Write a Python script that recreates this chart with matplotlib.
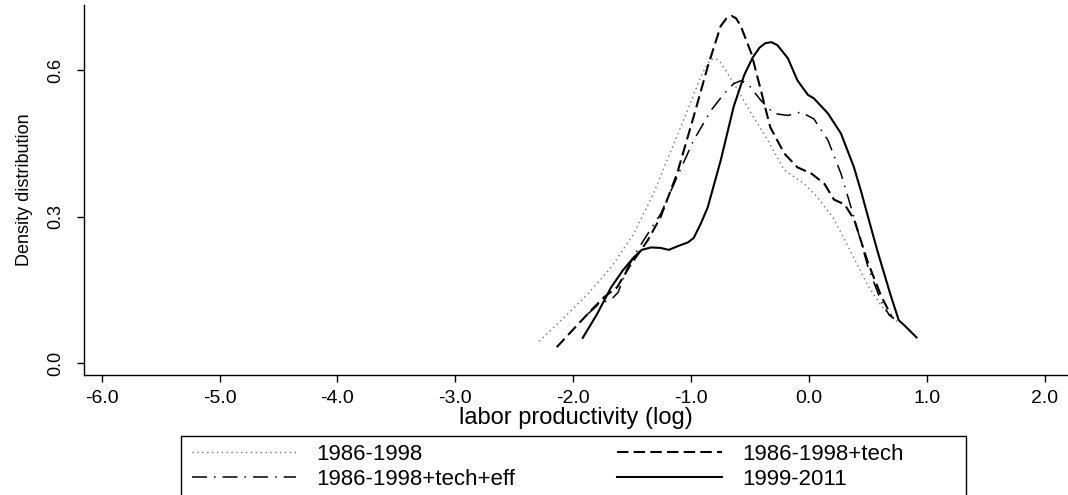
import matplotlib.pyplot as plt
from matplotlib.patches import Rectangle

plt.rcParams['font.family'] = ['Liberation Sans', 'DejaVu Sans']

# densités estimées de la productivité du travail (log)
x_8698 = [-2.29, -2.08, -1.88, -1.68, -1.49, -1.32, -1.17, -1.03, -0.92, -0.87, -0.83, -0.79,
          -0.75, -0.64, -0.49, -0.35, -0.21, -0.04, 0.07, 0.21, 0.36, 0.50, 0.61, 0.70, 0.75]
y_8698 = [0.045, 0.093, 0.141, 0.196, 0.264, 0.347, 0.436, 0.518, 0.586, 0.610, 0.622, 0.623,
          0.615, 0.573, 0.511, 0.456, 0.395, 0.367, 0.340, 0.295, 0.225, 0.158, 0.118, 0.093, 0.085]

x_tech = [-2.14, -1.99, -1.85, -1.74, -1.63, -1.51, -1.37, -1.26, -1.12, -0.98, -0.86, -0.75,
          -0.70, -0.66, -0.62, -0.58, -0.49, -0.41, -0.33, -0.21, -0.10, 0.02, 0.13, 0.21,
          0.30, 0.38, 0.50, 0.61, 0.70]
y_tech = [0.033, 0.072, 0.108, 0.135, 0.155, 0.203, 0.251, 0.299, 0.388, 0.504, 0.607, 0.690,
          0.706, 0.711, 0.706, 0.690, 0.634, 0.559, 0.483, 0.429, 0.401, 0.388, 0.367, 0.335,
          0.325, 0.295, 0.205, 0.138, 0.095]

x_eff = [-1.88, -1.78, -1.68, -1.62, -1.55, -1.46, -1.36, -1.26, -1.12, -0.98, -0.83, -0.72,
         -0.64, -0.58, -0.52, -0.41, -0.30, -0.18, -0.07, 0.04, 0.16, 0.27, 0.38, 0.50,
         0.61, 0.68, 0.72]
y_eff = [0.100, 0.122, 0.130, 0.145, 0.190, 0.230, 0.268, 0.305, 0.381, 0.456, 0.518, 0.552,
         0.572, 0.578, 0.572, 0.538, 0.511, 0.507, 0.514, 0.500, 0.456, 0.388, 0.299, 0.196,
         0.127, 0.098, 0.092]

x_9911 = [-1.92, -1.80, -1.68, -1.58, -1.49, -1.42, -1.34, -1.26, -1.19, -1.11, -1.03, -0.98,
          -0.92, -0.86, -0.75, -0.64, -0.55, -0.48, -0.42, -0.37, -0.32, -0.27, -0.18, -0.10,
          -0.01, 0.04, 0.16, 0.27, 0.38, 0.44, 0.50, 0.58, 0.69, 0.76, 0.81, 0.91]
y_9911 = [0.052, 0.100, 0.155, 0.190, 0.216, 0.232, 0.237, 0.236, 0.232, 0.240, 0.247, 0.256,
          0.285, 0.319, 0.415, 0.525, 0.590, 0.625, 0.646, 0.655, 0.657, 0.651, 0.624, 0.579,
          0.549, 0.542, 0.511, 0.470, 0.401, 0.352, 0.299, 0.229, 0.140, 0.088, 0.077, 0.053]

labels = ["1986-1998", "1986-1998+tech", "1986-1998+tech+eff", "1999-2011"]
x_ticks = [-6.0, -5.0, -4.0, -3.0, -2.0, -1.0, 0.0, 1.0, 2.0]
y_ticks = [0.0, 0.3, 0.6]

fig = plt.figure(figsize=(10.68, 4.95), dpi=100)
ax = fig.add_axes([84 / 1068, 120 / 495, 984 / 1068, 370 / 495])

l1, = ax.plot(x_8698, y_8698, color='0.45', lw=1.0, linestyle=(0, (1, 2.5)))
l2, = ax.plot(x_tech, y_tech, color='black', lw=1.5, linestyle=(0, (5.5, 2.5)))
l3, = ax.plot(x_eff, y_eff, color='black', lw=1.1, linestyle=(0, (9.8, 4.6, 1, 4.6)))
l4, = ax.plot(x_9911, y_9911, color='black', lw=1.5)

ax.set_xlim(-6.149, 2.195)
ax.set_ylim(-0.024, 0.733)
ax.set_xticks(x_ticks)
ax.set_xticklabels([f"{v:.1f}" for v in x_ticks])
ax.set_yticks(y_ticks)
ax.set_yticklabels([f"{v:.1f}" for v in y_ticks], rotation=90, va='center')

for s in ['top', 'right']:
    ax.spines[s].set_visible(False)
for s in ['left', 'bottom']:
    ax.spines[s].set_linewidth(1.0)

ax.tick_params(axis='x', length=5, width=1.0, labelsize=14, pad=5.5)
ax.tick_params(axis='y', length=5, width=1.0, labelsize=13, pad=9)

ax.set_xlabel("labor productivity (log)", fontsize=17, labelpad=0.5)
ax.set_ylabel("Density distribution", fontsize=13, labelpad=10.5)

# légende sur deux colonnes sous le graphique
leg = ax.legend([l1, l3, l2, l4], [labels[0], labels[2], labels[1], labels[3]],
                ncol=2, loc='upper left', bbox_to_anchor=(184 / 1068, 1 - 436 / 495),
                bbox_transform=fig.transFigure, frameon=False, fontsize=16,
                handlelength=4.7, handletextpad=0.9, borderpad=0.35, labelspacing=0.2,
                columnspacing=4.6, borderaxespad=0)
fig.patches.append(Rectangle((181 / 1068, -0.02), (966 - 181) / 1068, (495 - 436) / 495 + 0.02,
                             transform=fig.transFigure, fill=False, edgecolor='black', lw=1.0))

fig.savefig("out.png", dpi=100)
